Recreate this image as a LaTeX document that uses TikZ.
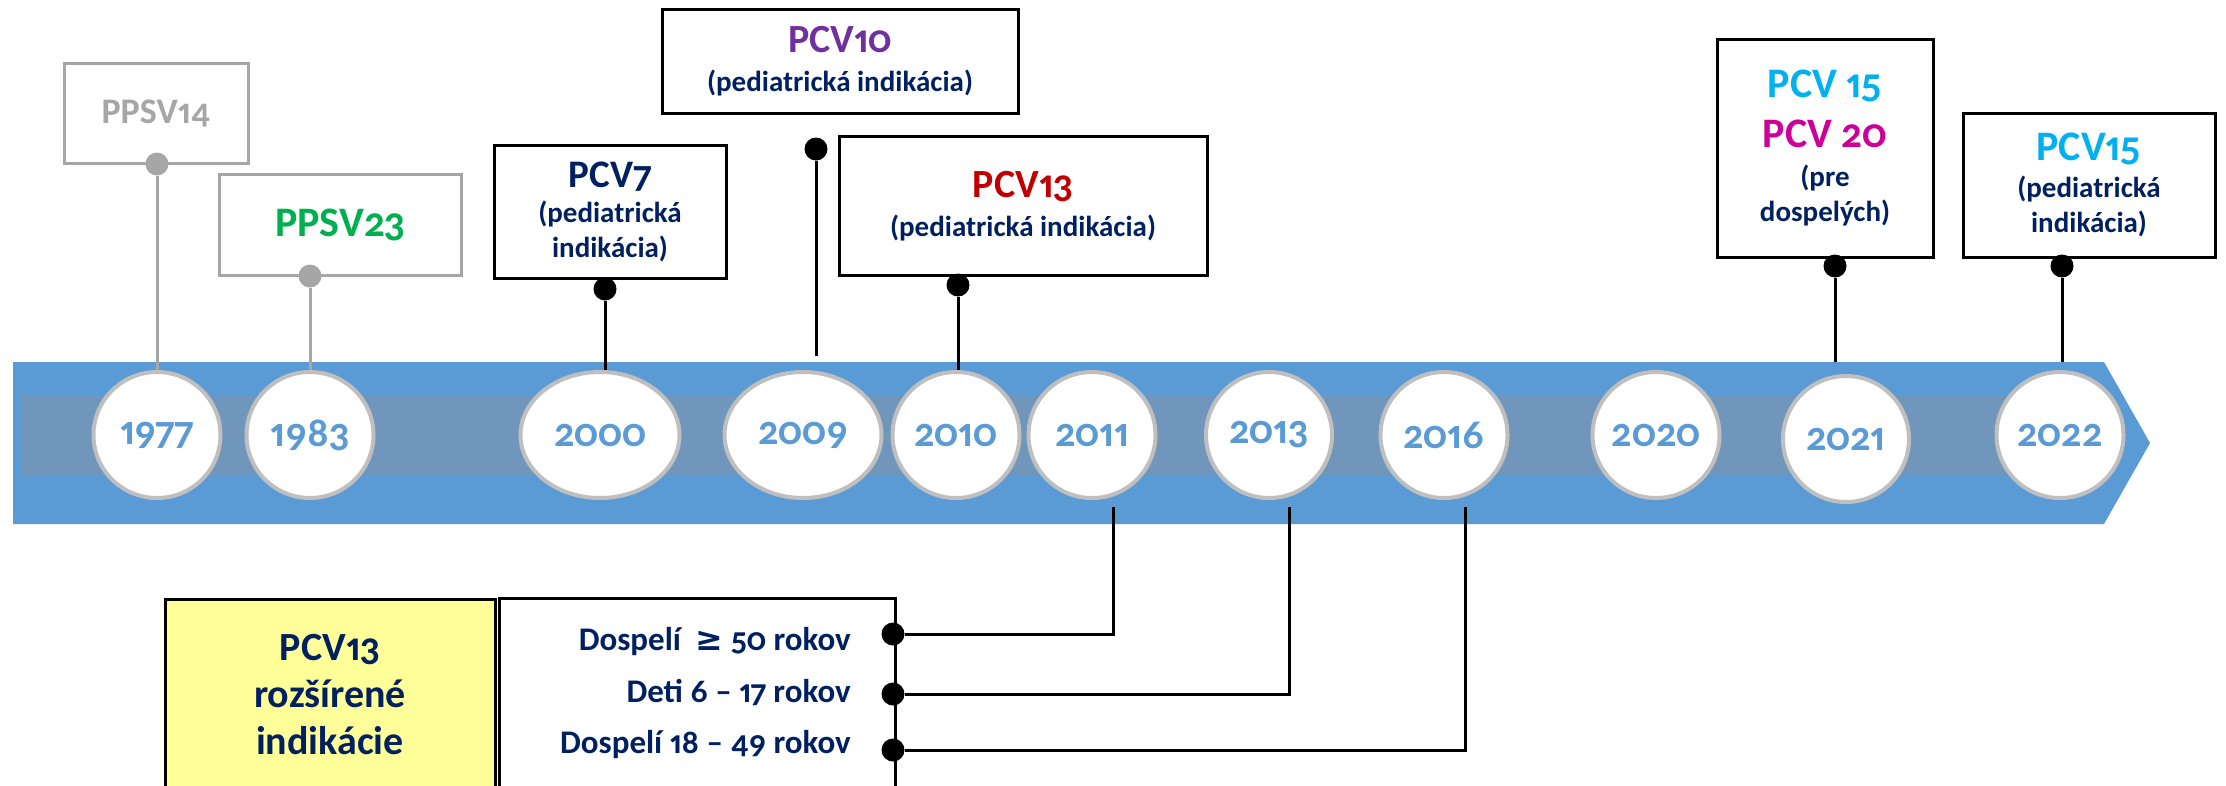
\documentclass[tikz,border=0pt]{standalone}
\usepackage{fontspec}
\setmainfont{Carlito}[Numbers={OldStyle,Proportional}]
\newfontfamily\symfont{DejaVu Sans}
\usetikzlibrary{shapes.geometric}
\definecolor{bandc}{HTML}{5B9BD5}
\definecolor{innerc}{HTML}{7097BB}
\definecolor{navy}{HTML}{002060}
\definecolor{ring}{HTML}{BFBFBF}
\definecolor{greyc}{HTML}{A6A6A6}
\definecolor{grn}{HTML}{00B050}
\definecolor{purp}{HTML}{7030A0}
\definecolor{redc}{HTML}{C00000}
\definecolor{cyanc}{HTML}{00B0F0}
\definecolor{mag}{HTML}{CC0099}
\definecolor{yel}{HTML}{FFFF99}
\begin{document}
\begin{tikzpicture}[x=1pt,y=-1pt,
  year/.style={ellipse, draw=ring, line width=4pt, fill=white, minimum height=126, inner sep=0pt, text=bandc, font=\fontsize{41}{41}\selectfont\bfseries},
  box/.style={rectangle, draw=black, line width=3pt, fill=white, align=center, inner sep=0pt, text=navy, font=\fontsize{29}{35}\selectfont\bfseries},
  gbox/.style={box, draw=greyc},
  bdot/.style={circle, fill=black, minimum size=23, inner sep=0pt},
  gdot/.style={bdot, fill=greyc},
  conn/.style={line width=3pt, draw=black},
  gconn/.style={line width=3pt, draw=greyc},
  agetext/.style={anchor=base east, inner sep=0pt, text=navy, font=\fontsize{33}{35}\selectfont\bfseries},
]
\useasboundingbox (0,0) rectangle (2226,785);
% band
\fill[bandc] (13,362) -- (2104,362) -- (2150,443) -- (2104,524) -- (13,524) -- cycle;
\fill[innerc] (21,396) rectangle (2010,475);
\coordinate (bandtop) at (0,362);

% years
\node[year, minimum width=127] (y1977) at (157,435) {1977};
\node[year, minimum width=127] (y1983) at (310,435) {1983};
\node[year, minimum width=159] (y2000) at (600,435) {2000};
\node[year, minimum width=157] (y2009) at (803,435) {2009};
\node[year, minimum width=127] (y2010) at (956,435) {2010};
\node[year, minimum width=127] (y2011) at (1092,435) {2011};
\node[year, minimum width=126] (y2013) at (1269,435) {2013};
\node[year, minimum width=127] (y2016) at (1444,435) {2016};
\node[year, minimum width=127] (y2020) at (1656,435) {2020};
\node[year, minimum width=126] (y2021) at (1846,439) {2021};
\node[year, minimum width=127] (y2022) at (2060,435) {2022};

% top boxes
\node[gbox, minimum width=184, minimum height=100, text=greyc] (ppsv14) at (156,113) {\fontsize{36}{36}\selectfont PPSV14};
\node[gbox, minimum width=242, minimum height=101, text=grn] (ppsv23) at (340,225) {\fontsize{42}{42}\selectfont PPSV23};
\node[box, minimum width=232, minimum height=133] (pcv7) at (610,212) {{\fontsize{39}{34}\selectfont PCV7}\\(pediatrická\\indikácia)};
\node[box, minimum width=356, minimum height=104] (pcv10) at (840,61) {{\fontsize{40}{34}\selectfont\color{purp}PCV10}\\[4pt](pediatrická indikácia)};
\node[box, minimum width=368, minimum height=139] (pcv13) at (1023,206) {{\fontsize{40}{34}\selectfont\color{redc}PCV13}\\[4pt](pediatrická indikácia)};
\node[box, minimum width=216, minimum height=218] (pcv1520) at (1825,148) {{\fontsize{42}{34}\selectfont\color{cyanc}PCV 15}\\[15pt]{\fontsize{42}{34}\selectfont\color{mag}PCV 20}\\[4pt](pre\\dospelých)};
\node[box, minimum width=252, minimum height=144] (pcv15) at (2089,185) {{\fontsize{42}{34}\selectfont\color{cyanc}PCV15}\\[2pt](pediatrická\\indikácia)};

% dots
\node[gdot] (d1977) at (157,164) {};
\node[gdot] (d1983) at (310,276) {};
\node[bdot] (d2000) at (605,289) {};
\node[bdot] (d2009) at (816,149) {};
\node[bdot] (d2010) at (958,285) {};
\node[bdot] (d2021) at (1835,266) {};
\node[bdot] (d2022) at (2062,266) {};
\coordinate (e2009) at (817,356);

% top connectors
\draw[gconn] (d1977) -- (y1977.north);
\draw[gconn] (d1983) -- (y1983.north);
\draw[conn] (d2000) -- (d2000 |- y2000.north);
\draw[conn] (d2009) -- (d2009 |- e2009);
\draw[conn] (d2010) -- (d2010 |- y2010.north);
\draw[conn] (d2021) -- (d2021 |- bandtop);
\draw[conn] (d2022) -- (d2022 |- bandtop);

% bottom boxes
\node[box, fill=yel, minimum width=330, minimum height=190, anchor=north, font=\fontsize{40}{47}\selectfont\bfseries] (ext) at (330,598) {PCV13\\rozšírené\\indikácie};
\node[box, minimum width=396, minimum height=190, anchor=north] (ages) at (697,597) {};
\node[agetext] (t1) at (851,650) {Dospelí~~{\symfont\bfseries ≥} 50 rokov};
\node[agetext] (t2) at (851,702) {Deti 6 – 17 rokov};
\node[agetext] (t3) at (851,753) {Dospelí 18 – 49 rokov};
\node[bdot] (a1) at (893,634) {};
\node[bdot] (a2) at (893,694) {};
\node[bdot] (a3) at (893,750) {};
\coordinate (s2011) at (1113,507);
\coordinate (s2013) at (1289,507);
\coordinate (s2016) at (1465,507);
\draw[conn] (a1) -| (s2011);
\draw[conn] (a2) -| (s2013);
\draw[conn] (a3) -| (s2016);
\end{tikzpicture}
\end{document}
